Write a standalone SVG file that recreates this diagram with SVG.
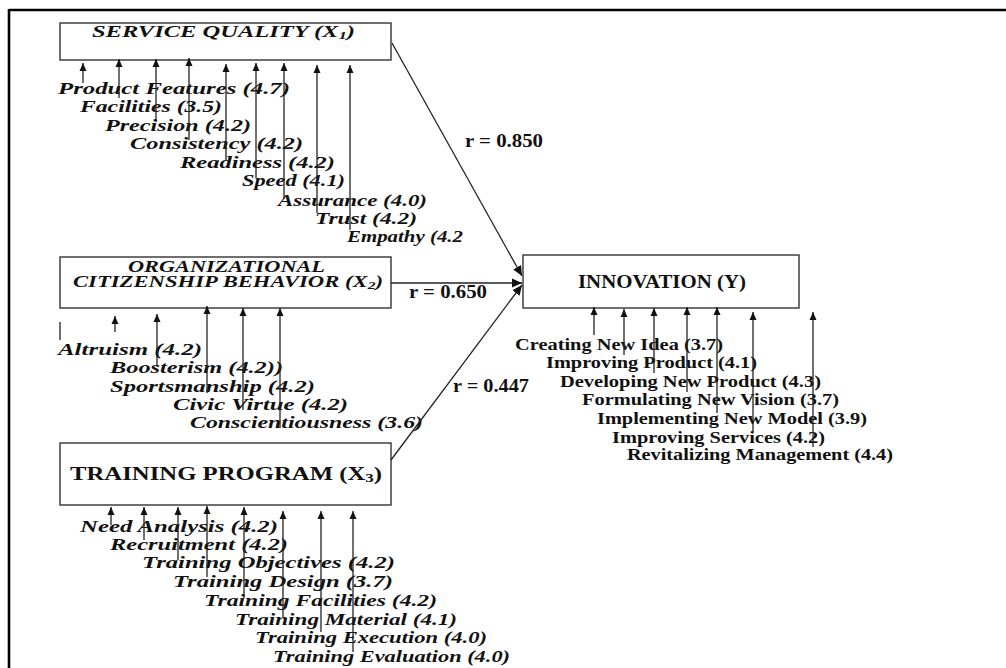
<svg xmlns="http://www.w3.org/2000/svg" width="1006" height="668" viewBox="0 0 1006 668">
<style>
.box{fill:#fff;stroke:#333;stroke-width:1.4}
.it{font-family:"Liberation Serif","Times New Roman",serif;font-style:italic;font-weight:bold;font-size:16px;fill:#111}
.bd{font-family:"Liberation Serif","Times New Roman",serif;font-weight:bold;font-size:17px;fill:#111}
.ttl{font-size:19px}
.ind{stroke:#222;stroke-width:1.3;fill:none;marker-end:url(#sa)}
.path{stroke:#222;stroke-width:1.3;fill:none;marker-end:url(#la)}
.frame{stroke:#000;stroke-width:2.6}
</style>
<defs>
<marker id="sa" markerUnits="userSpaceOnUse" viewBox="0 0 8 8" refX="8" refY="4" markerWidth="8" markerHeight="8" orient="auto"><path d="M0,0.5 L8,4 L0,7.5 z" fill="#111"/></marker>
<marker id="la" markerUnits="userSpaceOnUse" viewBox="0 0 10 10" refX="10" refY="5" markerWidth="10" markerHeight="10" orient="auto"><path d="M0,0.5 L10,5 L0,9.5 z" fill="#111"/></marker>
</defs>
<rect width="1006" height="668" fill="#fff"/>
<g id="frame">
<line class="frame" x1="9" y1="10" x2="1006" y2="10"/>
<line class="frame" x1="9" y1="9" x2="9" y2="668"/>
</g>

<g id="node-x1">
<rect class="box" x="60" y="23" width="331" height="37"/>
<text class="it" x="92" y="37" textLength="263" lengthAdjust="spacingAndGlyphs">SERVICE QUALITY (X<tspan font-size="11" dy="2">1</tspan><tspan dy="-2">)</tspan></text>
</g>
<g id="node-x2">
<rect class="box" x="60" y="257" width="331" height="51"/>
<text class="it" x="128" y="272" textLength="197" lengthAdjust="spacingAndGlyphs">ORGANIZATIONAL</text>
<text class="it" x="73" y="287" textLength="310" lengthAdjust="spacingAndGlyphs">CITIZENSHIP BEHAVIOR (X<tspan font-size="11" dy="2">2</tspan><tspan dy="-2">)</tspan></text>
</g>
<g id="node-x3">
<rect class="box" x="60" y="443" width="331" height="62"/>
<text class="bd ttl" x="70" y="480" textLength="312" lengthAdjust="spacingAndGlyphs">TRAINING PROGRAM (X<tspan font-size="13" dy="2">3</tspan><tspan dy="-2">)</tspan></text>
</g>
<g id="node-y">
<rect class="box" x="523" y="255" width="276" height="53"/>
<text class="bd ttl" x="578" y="288" textLength="168" lengthAdjust="spacingAndGlyphs">INNOVATION (Y)</text>
</g>

<g id="indicators-x1" class="it">
<text x="58" y="94" textLength="232" lengthAdjust="spacingAndGlyphs">Product Features (4.7)</text>
<text x="80" y="112" textLength="142" lengthAdjust="spacingAndGlyphs">Facilities (3.5)</text>
<text x="105" y="131" textLength="146" lengthAdjust="spacingAndGlyphs">Precision (4.2)</text>
<text x="130" y="149" textLength="173" lengthAdjust="spacingAndGlyphs">Consistency (4.2)</text>
<text x="180" y="168" textLength="155" lengthAdjust="spacingAndGlyphs">Readiness (4.2)</text>
<text x="242" y="186" textLength="103" lengthAdjust="spacingAndGlyphs">Speed (4.1)</text>
<text x="278" y="206" textLength="149" lengthAdjust="spacingAndGlyphs">Assurance (4.0)</text>
<text x="315" y="224" textLength="102" lengthAdjust="spacingAndGlyphs">Trust (4.2)</text>
<text x="347" y="242" textLength="116" lengthAdjust="spacingAndGlyphs">Empathy (4.2</text>
</g>
<g id="indicators-x2" class="it">
<text x="58" y="355" textLength="144" lengthAdjust="spacingAndGlyphs">Altruism (4.2)</text>
<text x="110" y="373" textLength="173" lengthAdjust="spacingAndGlyphs">Boosterism (4.2))</text>
<text x="110" y="392" textLength="205" lengthAdjust="spacingAndGlyphs">Sportsmanship (4.2)</text>
<text x="173" y="410" textLength="175" lengthAdjust="spacingAndGlyphs">Civic Virtue (4.2)</text>
<text x="190" y="428" textLength="233" lengthAdjust="spacingAndGlyphs">Conscientiousness (3.6)</text>
</g>
<g id="indicators-x3" class="it">
<text x="80" y="532" textLength="198" lengthAdjust="spacingAndGlyphs">Need Analysis (4.2)</text>
<text x="110" y="550" textLength="178" lengthAdjust="spacingAndGlyphs">Recruitment (4.2)</text>
<text x="142" y="568" textLength="253" lengthAdjust="spacingAndGlyphs">Training Objectives (4.2)</text>
<text x="173" y="587" textLength="220" lengthAdjust="spacingAndGlyphs">Training Design (3.7)</text>
<text x="204" y="606" textLength="233" lengthAdjust="spacingAndGlyphs">Training Facilities (4.2)</text>
<text x="235" y="625" textLength="222" lengthAdjust="spacingAndGlyphs">Training Material (4.1)</text>
<text x="255" y="643" textLength="232" lengthAdjust="spacingAndGlyphs">Training Execution (4.0)</text>
<text x="273" y="662" textLength="237" lengthAdjust="spacingAndGlyphs">Training Evaluation (4.0)</text>
</g>
<g id="indicators-y" class="bd">
<text x="515" y="350" textLength="208" lengthAdjust="spacingAndGlyphs">Creating New Idea (3.7)</text>
<text x="546" y="368" textLength="211" lengthAdjust="spacingAndGlyphs">Improving Product (4.1)</text>
<text x="560" y="387" textLength="261" lengthAdjust="spacingAndGlyphs">Developing New Product (4.3)</text>
<text x="582" y="405" textLength="257" lengthAdjust="spacingAndGlyphs">Formulating New Vision (3.7)</text>
<text x="597" y="424" textLength="270" lengthAdjust="spacingAndGlyphs">Implementing New Model (3.9)</text>
<text x="612" y="443" textLength="213" lengthAdjust="spacingAndGlyphs">Improving Services (4.2)</text>
<text x="627" y="460" textLength="266" lengthAdjust="spacingAndGlyphs">Revitalizing Management (4.4)</text>
</g>

<g id="connectors">
<line class="path" x1="392" y1="43" x2="522" y2="276"/>
<line class="path" x1="391" y1="283" x2="522" y2="283"/>
<line class="path" x1="391" y1="460" x2="522" y2="285"/>
<g id="arrows-x1">
<line class="ind" x1="83" y1="83" x2="83" y2="63"/>
<line class="ind" x1="119" y1="98" x2="119" y2="59"/>
<line class="ind" x1="156" y1="122" x2="156" y2="59"/>
<line class="ind" x1="189" y1="140" x2="189" y2="58"/>
<line class="ind" x1="226" y1="160" x2="226" y2="64"/>
<line class="ind" x1="256" y1="178" x2="256" y2="63"/>
<line class="ind" x1="284" y1="199" x2="284" y2="63"/>
<line class="ind" x1="317" y1="213" x2="317" y2="65"/>
<line class="ind" x1="350" y1="230" x2="350" y2="65"/>
</g>
<g id="arrows-x2">
<line class="ind" x1="115" y1="332" x2="115" y2="316"/>
<line class="ind" x1="157" y1="367" x2="157" y2="314"/>
<line class="ind" x1="207" y1="393" x2="207" y2="306"/>
<line class="ind" x1="243" y1="410" x2="243" y2="308"/>
<line class="ind" x1="280" y1="428" x2="280" y2="308"/>
<line x1="60" y1="322" x2="60" y2="340" stroke="#222" stroke-width="1.3"/>
</g>
<g id="arrows-x3">
<line class="ind" x1="111" y1="525" x2="111" y2="507"/>
<line class="ind" x1="144" y1="540" x2="144" y2="507"/>
<line class="ind" x1="178" y1="560" x2="178" y2="507"/>
<line class="ind" x1="207" y1="577" x2="207" y2="506"/>
<line class="ind" x1="244" y1="598" x2="244" y2="507"/>
<line class="ind" x1="283" y1="617" x2="283" y2="511"/>
<line class="ind" x1="321" y1="632" x2="321" y2="511"/>
<line class="ind" x1="353" y1="652" x2="353" y2="511"/>
</g>
<g id="arrows-y">
<line class="ind" x1="594" y1="335" x2="594" y2="307"/>
<line class="ind" x1="624" y1="355" x2="624" y2="309"/>
<line class="ind" x1="654" y1="373" x2="654" y2="308"/>
<line class="ind" x1="687" y1="392" x2="687" y2="307"/>
<line class="ind" x1="717" y1="413" x2="717" y2="307"/>
<line class="ind" x1="753" y1="432" x2="753" y2="312"/>
<line class="ind" x1="813" y1="447" x2="813" y2="312"/>
</g>
</g>

<g id="coefficients" class="bd">
<text x="465" y="147" font-size="18" textLength="78" lengthAdjust="spacingAndGlyphs">r = 0.850</text>
<text x="409" y="298" font-size="18" textLength="78" lengthAdjust="spacingAndGlyphs">r = 0.650</text>
<text x="453" y="392" font-size="18" textLength="76" lengthAdjust="spacingAndGlyphs">r = 0.447</text>
</g>
</svg>
